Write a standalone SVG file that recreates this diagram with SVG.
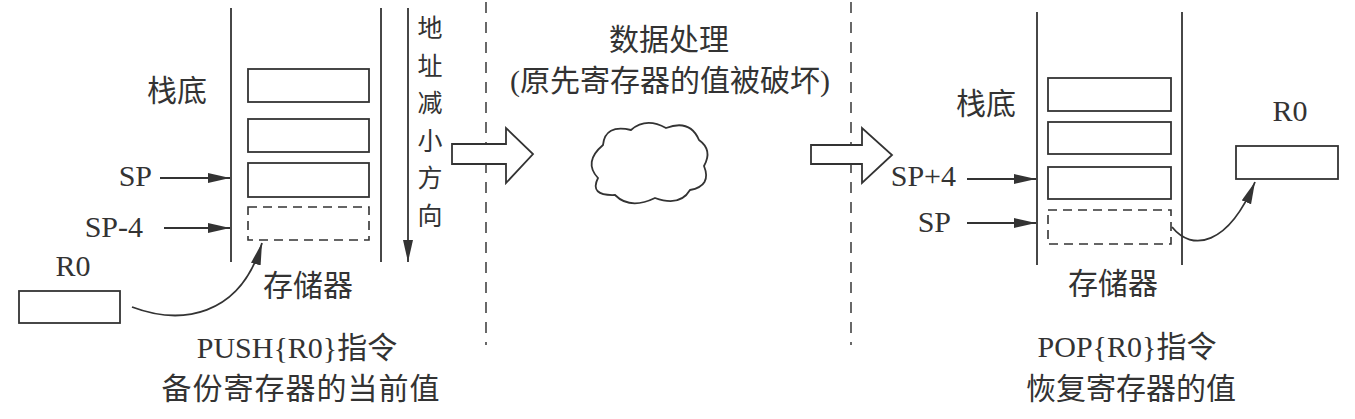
<svg xmlns="http://www.w3.org/2000/svg" width="1355" height="419" viewBox="0 0 1355 419">
<style>
.ln{stroke:#333;stroke-width:1.8;fill:none}
.bx{stroke:#333;stroke-width:1.8;fill:none}
.dbx{stroke:#333;stroke-width:1.6;fill:none;stroke-dasharray:9 6}
.sep{stroke:#444;stroke-width:1.6;fill:none;stroke-dasharray:11 9}
.cj{font-family:"Noto Sans CJK SC",sans-serif;font-size:30px;fill:#333}
.vt{font-family:"Noto Sans CJK SC",sans-serif;font-size:25px;fill:#333}
.lt{font-family:"Liberation Serif","Noto Sans CJK SC",serif;font-size:30px;fill:#333}
.hol{stroke:#333;stroke-width:1.8;fill:#fff}
</style>
<defs>
<marker id="ah" markerUnits="userSpaceOnUse" markerWidth="24" markerHeight="12" refX="22" refY="5" orient="auto">
<path d="M0,0 L22,5 L0,10 Z" fill="#333"/>
</marker>
</defs>
<rect width="1355" height="419" fill="#fff"/>

<g id="separators">
<line class="sep" x1="486" y1="2" x2="486" y2="345"/>
<line class="sep" x1="851" y1="2" x2="851" y2="345"/>
</g>

<g id="push-stack">
<line class="ln" x1="231" y1="8" x2="231" y2="262"/>
<line class="ln" x1="381" y1="8" x2="381" y2="262"/>
<rect class="bx" x="248" y="69" width="121" height="33"/>
<rect class="bx" x="248" y="119" width="121" height="33"/>
<rect class="bx" x="248" y="163" width="121" height="34"/>
<rect class="dbx" x="248" y="207" width="121" height="33"/>
<text class="cj" x="177" y="101" text-anchor="middle">栈底</text>
<text class="cj" x="308" y="296" text-anchor="middle">存储器</text>
</g>

<g id="direction">
<text class="vt" x="430" y="37" text-anchor="middle">地</text>
<text class="vt" x="430" y="74.5" text-anchor="middle">址</text>
<text class="vt" x="430" y="112" text-anchor="middle">减</text>
<text class="vt" x="430" y="149.5" text-anchor="middle">小</text>
<text class="vt" x="430" y="187" text-anchor="middle">方</text>
<text class="vt" x="430" y="224.5" text-anchor="middle">向</text>
</g>

<g id="push-labels">
<text class="lt" x="152" y="186" text-anchor="end">SP</text>
<text class="lt" x="143" y="237" text-anchor="end">SP-4</text>
<text class="lt" x="73" y="276" text-anchor="middle">R0</text>
<rect class="bx" x="19" y="291" width="101" height="32"/>
<text class="lt" x="297" y="358" text-anchor="middle">PUSH{R0}指令</text>
<text class="cj" x="301" y="399" text-anchor="middle" letter-spacing="1">备份寄存器的当前值</text>
</g>

<g id="process">
<text class="cj" x="669" y="50" text-anchor="middle">数据处理</text>
<text class="lt" x="670" y="91" text-anchor="middle">(原先寄存器的值被破坏)</text>
<path class="ln" d="M603,145 Q605,124 631,130 Q646,117 666,128 Q690,119 699,140 Q713,150 704,166 Q712,186 690,190 Q680,207 655,198 Q630,210 615,195 Q589,196 598,178 Q583,162 603,145 Z"/>
</g>

<g id="pop-stack">
<line class="ln" x1="1037" y1="12" x2="1037" y2="265"/>
<line class="ln" x1="1182" y1="12" x2="1182" y2="265"/>
<rect class="bx" x="1048" y="78" width="123" height="33"/>
<rect class="bx" x="1048" y="122" width="123" height="32"/>
<rect class="bx" x="1048" y="167" width="123" height="32"/>
<rect class="dbx" x="1048" y="210" width="123" height="34"/>
<text class="cj" x="986" y="114" text-anchor="middle">栈底</text>
<text class="cj" x="1113" y="294" text-anchor="middle">存储器</text>
</g>

<g id="pop-labels">
<text class="lt" x="956" y="186" text-anchor="end">SP+4</text>
<text class="lt" x="951" y="232" text-anchor="end">SP</text>
<text class="lt" x="1290" y="121" text-anchor="middle">R0</text>
<rect class="bx" x="1236" y="146" width="102" height="33"/>
<text class="lt" x="1127" y="357" text-anchor="middle">POP{R0}指令</text>
<text class="cj" x="1131" y="399" text-anchor="middle">恢复寄存器的值</text>
</g>

<g id="connectors">
<line class="ln" x1="408" y1="8" x2="408" y2="262" marker-end="url(#ah)"/>
<line class="ln" x1="160" y1="178" x2="230" y2="178" marker-end="url(#ah)"/>
<line class="ln" x1="164" y1="228" x2="230" y2="228" marker-end="url(#ah)"/>
<path class="ln" d="M132,307 C180,325 240,318 262,243" marker-end="url(#ah)"/>
<line class="ln" x1="967" y1="179" x2="1036" y2="179" marker-end="url(#ah)"/>
<line class="ln" x1="967" y1="223" x2="1036" y2="223" marker-end="url(#ah)"/>
<path class="ln" d="M1172,227 C1192,252 1228,246 1255,182" marker-end="url(#ah)"/>
<polygon class="hol" points="452,144 506,144 506,128 533,154 506,183 506,164 452,164"/>
<polygon class="hol" points="811,145 862,145 862,128 892,155 862,183 862,164 811,164"/>
</g>
</svg>
